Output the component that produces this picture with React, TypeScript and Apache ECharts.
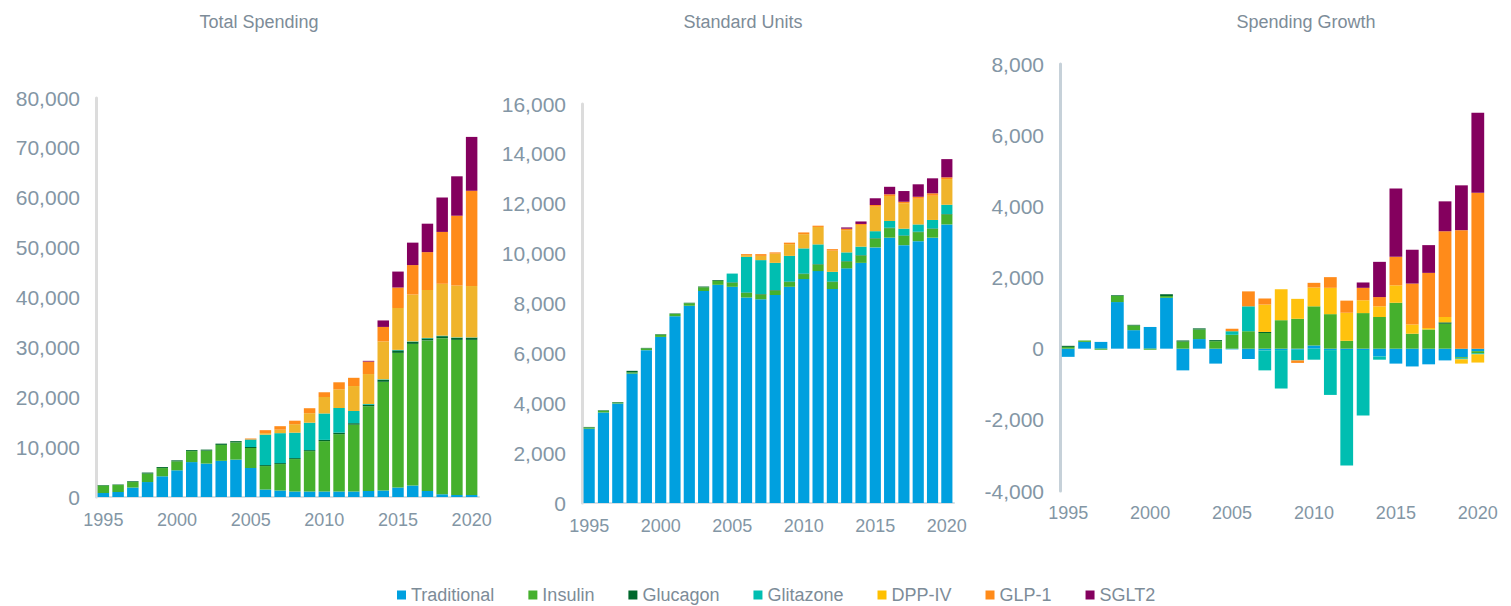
import React, { useEffect, useRef } from "react";
import * as echarts from "echarts";

const years = ["1995","1996","1997","1998","1999","2000","2001","2002","2003","2004","2005","2006","2007","2008","2009","2010","2011","2012","2013","2014","2015","2016","2017","2018","2019","2020"];

const seriesNames = ["Traditional", "Insulin", "Glucagon", "Glitazone", "DPP-IV", "GLP-1", "SGLT2"];

// Total Spending
const tsTraditional = [800,1000,1900,3000,4150,5350,7000,6700,7250,7500,5800,1500,1300,1100,1100,1100,1100,1100,1200,1300,1900,2300,1200,550,400,400];
const tsInsulin = [1500,1400,1100,1700,1650,1800,2200,2600,3200,3450,4000,4700,5300,6500,8100,10100,11500,13400,17000,21800,27000,28400,30200,31300,31100,31100];
const tsGlucagon = [100,100,150,200,200,200,200,200,250,250,250,200,200,200,200,250,300,300,300,400,500,400,400,400,400,450];
const tsGlitazone = [0,0,0,0,0,0,0,0,0,0,1500,6100,6000,5100,5500,5300,4950,2450,150,100,100,100,100,100,100,50];
const tsDpp = [0,0,0,0,0,0,0,0,0,0,0,300,700,1700,1900,3300,3750,5000,6000,7600,8400,9400,9600,10400,10400,10300];
const tsGlp = [0,0,0,0,0,0,0,0,0,0,200,600,700,700,1000,950,1400,1650,2500,2900,4100,5900,7600,10400,14000,19100];
const tsSglt2 = [0,0,0,0,0,0,0,0,0,0,0,0,0,0,0,0,0,0,150,1300,3200,4500,5700,6900,7900,10800];

// Standard Units
const suTraditional = [2980,3630,3990,5190,6130,6660,7490,7910,8500,8750,8670,8240,8170,8340,8670,8980,9300,8580,9410,9630,10250,10640,10340,10500,10640,11170];
const suInsulin = [50,70,40,50,70,90,90,100,150,160,160,180,190,180,190,200,260,280,270,290,350,380,370,360,350,400];
const suGlucagon = [20,20,20,60,20,20,20,20,30,30,20,20,20,20,20,20,20,20,20,20,20,20,20,20,20,20];
const suGlitazone = [0,0,0,0,0,0,0,0,0,0,350,1430,1360,1090,1030,1010,790,390,350,340,280,270,270,290,340,370];
const suDpp = [0,0,0,0,0,0,0,0,0,0,0,70,170,370,470,570,700,850,890,870,980,1000,1020,1030,970,1030];
const suGlp = [0,0,0,0,0,0,0,0,0,0,0,40,70,50,60,70,50,60,60,40,70,70,60,80,100,70];
const suSglt2 = [0,0,0,0,0,0,0,0,0,0,0,0,0,0,0,0,0,0,50,100,270,300,430,500,600,730];

// Spending Growth
const sgTraditional = [-230,190,190,1310,520,610,1430,-610,270,-420,-20,-290,-50,-40,-30,90,-40,-40,-40,-220,-420,-500,-440,-330,-240,-70];
const sgInsulin = [50,40,-30,170,130,-30,50,200,270,210,390,490,440,800,840,1100,970,220,1000,890,1290,420,540,700,-30,-60];
const sgGlucagon = [30,0,0,20,20,0,50,30,30,30,0,0,30,0,0,0,0,0,0,0,0,0,0,40,0,0];
const sgGlitazone = [0,0,0,0,0,0,0,0,0,0,100,700,-560,-1080,-300,-310,-1260,-3240,-1840,-90,0,0,0,0,-30,-30];
const sgDpp = [0,0,0,0,0,0,0,0,0,0,0,0,770,870,560,530,740,790,360,300,490,260,40,150,-120,-230];
const sgGlp = [0,0,0,0,0,0,0,0,0,0,70,420,170,0,-70,130,300,340,350,260,800,1150,1550,2410,3330,4380];
const sgSglt2 = [0,0,0,0,0,0,0,0,0,0,0,0,0,0,0,0,0,0,150,990,1920,950,780,840,1260,2250];

const colorsMuted = ["#00A0DF", "#45B02D", "#00682C", "#00BEB1", "#F0B42B", "#FF8B1A", "#84005E"];
const colorsBright = ["#00A0DF", "#45B02D", "#00682C", "#00BEB1", "#FFC20E", "#FF8B1A", "#84005E"];
const legendColors = ["#00A0DF", "#45B02D", "#00682C", "#00BEB1", "#FFC000", "#FF8B1A", "#84005E"];

const FONT = "Liberation Sans, Arial, sans-serif";
const LABEL_COLOR = "#8396a5";
const TITLE_COLOR = "#7d8c98";

const fmt = (v: number) => {
  const s = Math.abs(v).toString().replace(/\B(?=(\d{3})+(?!\d))/g, ",");
  return (v < 0 ? "-" : "") + s;
};

export default function App() {
  const ref = useRef<HTMLDivElement>(null);

  useEffect(() => {
    document.body.style.margin = "0";
    if (!ref.current) return;
    const chart = echarts.init(ref.current, undefined, { renderer: "svg" });

    const panels = [
      { data: [tsTraditional, tsInsulin, tsGlucagon, tsGlitazone, tsDpp, tsGlp, tsSglt2], colors: colorsMuted },
      { data: [suTraditional, suInsulin, suGlucagon, suGlitazone, suDpp, suGlp, suSglt2], colors: colorsMuted },
      { data: [sgTraditional, sgInsulin, sgGlucagon, sgGlitazone, sgDpp, sgGlp, sgSglt2], colors: colorsBright },
    ];

    const series: any[] = [];
    panels.forEach((p, pi) => {
      p.data.forEach((arr, si) => {
        series.push({
          type: "bar",
          name: seriesNames[si],
          xAxisIndex: pi,
          yAxisIndex: pi,
          stack: "p" + pi,
          data: arr,
          barCategoryGap: "22%",
          itemStyle: { color: p.colors[si] },
          emphasis: { disabled: true },
        });
      });
    });

    const xAxisBase = (gi: number, showLine: boolean, margin: number) => ({
      type: "category",
      gridIndex: gi,
      data: years,
      position: "bottom",
      axisTick: { show: false },
      axisLine: { show: showLine, onZero: false, lineStyle: { color: "#d8dfe4", width: 2 } },
      axisLabel: { interval: 4, color: LABEL_COLOR, fontSize: 18, fontFamily: FONT, margin },
    });

    const yAxisBase = (gi: number, min: number, max: number, interval: number, lineColor: string) => ({
      type: "value",
      gridIndex: gi,
      min,
      max,
      interval,
      splitLine: { show: false },
      axisTick: { show: false },
      axisLine: { show: true, lineStyle: { color: lineColor, width: 3 } },
      axisLabel: { color: LABEL_COLOR, fontSize: 21, fontFamily: FONT, margin: 16, formatter: fmt },
    });

    const titleStyle = { color: TITLE_COLOR, fontSize: 18, fontWeight: "normal", fontFamily: FONT };

    chart.setOption({
      animation: false,
      title: [
        { text: "Total Spending", left: 254, top: 8, textAlign: "center", textStyle: titleStyle },
        { text: "Standard Units", left: 738, top: 8, textAlign: "center", textStyle: titleStyle },
        { text: "Spending Growth", left: 1301, top: 8, textAlign: "center", textStyle: titleStyle },
      ],
      legend: {
        left: 392,
        top: 580,
        icon: "rect",
        itemWidth: 9,
        itemHeight: 9,
        itemGap: 34,
        textStyle: { color: TITLE_COLOR, fontSize: 18, fontFamily: FONT, lineHeight: 20 },
        data: seriesNames.map((n, i) => ({ name: n, itemStyle: { color: legendColors[i] } })),
        selectedMode: false,
      },
      grid: [
        { left: 96, top: 98, width: 383, height: 399 },
        { left: 582, top: 104, width: 372, height: 399 },
        { left: 1060, top: 64, width: 426, height: 427 },
      ],
      xAxis: [xAxisBase(0, true, 14), xAxisBase(1, true, 14), xAxisBase(2, false, 13)],
      yAxis: [
        yAxisBase(0, 0, 80000, 10000, "#dcdcdc"),
        yAxisBase(1, 0, 16000, 2000, "#dcdcdc"),
        yAxisBase(2, -4000, 8000, 2000, "#c6d1d9"),
      ],
      series,
    });

    return () => {
      chart.dispose();
    };
  }, []);

  return <div ref={ref} style={{ width: 1511, height: 606 }} />;
}
